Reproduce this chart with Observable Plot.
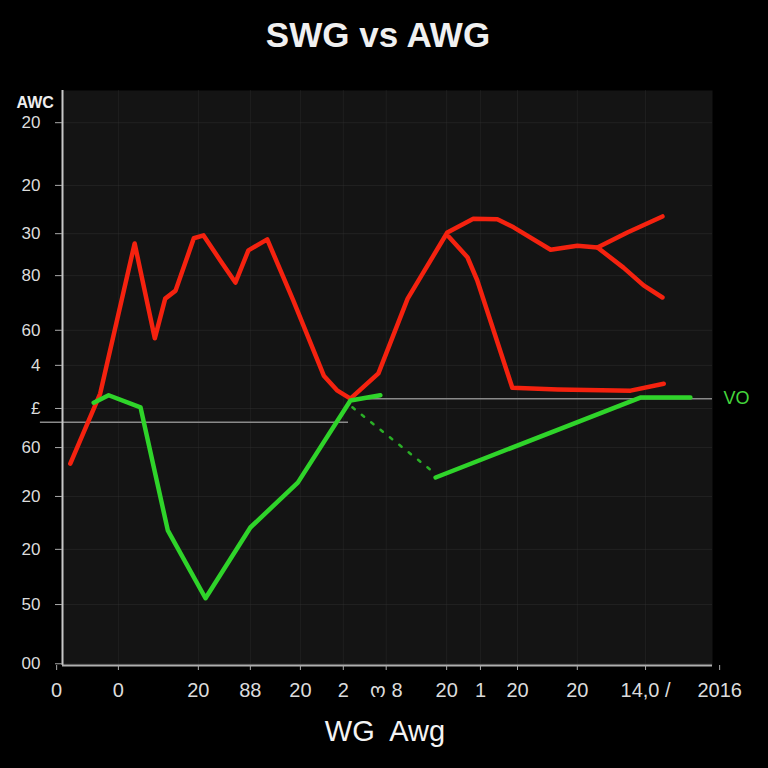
<!DOCTYPE html>
<html>
<head>
<meta charset="utf-8">
<script src="https://cdn.jsdelivr.net/npm/d3@7"></script>
<script src="https://cdn.jsdelivr.net/npm/@observablehq/plot@0.6"></script>
<style>
  html, body { margin: 0; padding: 0; background: #000; }
  body { width: 768px; height: 768px; overflow: hidden; font-family: "Liberation Sans", Arial, sans-serif; }
  #title { height: 70px; line-height: 70px; text-align: center; color: #f0f0f0; font-size: 35px; font-weight: bold; padding-right: 12px; }
  #xlabel { height: 68px; line-height: 62px; text-align: center; color: #f4f4f4; font-size: 29px; white-space: pre; padding-left: 2px; }
  #chart svg { display: block; }
</style>
</head>
<body>
<div id="title">SWG vs AWG</div>
<div id="chart"></div>
<div id="xlabel">WG  Awg</div>
<script>
// ---- data (chart units 0–100) ----
const title = "SWG vs AWG";
const yAxisTitle = "AWC";
const xAxisTitle = "WG  Awg";
const seriesLabel = "VO";

const yTickValues = [94.4, 83.5, 75.1, 67.8, 58.3, 52.2, 44.7, 37.9, 29.4, 20.2, 10.6, 0.3];
const yTickLabels = ["20", "20", "30", "80", "60", "4", "£", "60", "20", "20", "50", "00"];

const xTickValues = [-0.9, 8.6, 20.9, 28.9, 36.6, 43.2, 49.8, 59.1, 64.3, 70.0, 79.2, 89.7, 101.1];
const xTickLabels = ["0", "0", "20", "88", "20", "2", "ო 8", "20", "1", "20", "20", "14,0 /", "2016"];

const redMain = [[1.2,35.1],[5.8,47.3],[11.1,73.4],[14.2,56.9],[15.8,63.8],[17.4,65.2],[20.2,74.3],[21.7,74.8],
  [24.3,70.4],[26.6,66.6],[28.6,72.2],[31.5,74.1],[35.5,63.5],[40.2,50.4],[42.3,47.8],[44.3,46.4],[48.6,50.8],
  [53.1,63.8],[59.2,75.3],[63.2,77.7],[66.9,77.6],[69.4,76.2],[75.1,72.3],[79.2,73.0],[82.3,72.7],[86.9,75.3],[92.3,78.1]];
const redBranchHigh = [[82.3,72.7],[86.3,69.2],[89.4,66.1],[92.3,64.0]];
const redBranchLow = [[59.4,74.6],[62.3,71.0],[63.8,67.0],[69.2,48.3],[76.2,48.0],[87.4,47.8],[92.5,49.0]];

const greenMain = [[4.8,45.7],[7.1,47.0],[12.0,44.9],[16.2,23.5],[22.0,11.7],[28.9,24.0],[36.2,31.8],[44.3,46.1],[48.9,47.0]];
const greenDotted = [[44.6,44.9],[57.1,33.6]];
const greenRight = [[57.4,32.7],[88.9,46.6],[96.6,46.6]];

const refLineA = {y: 42.3, x1: -3.4, x2: 44.0};
const refLineB = {y: 46.4, x1: 44.3, x2: 100};

// ---- build ----
const toRows = (arr, name) => arr.map(([x, y]) => ({x, y, s: name}));
const redRows = [...toRows(redMain, "a"), ...toRows(redBranchHigh, "b"), ...toRows(redBranchLow, "c")];
const greenRows = [...toRows(greenMain, "a"), ...toRows(greenRight, "b")];
const yLabel = new Map(yTickValues.map((v, i) => [v, yTickLabels[i]]));
const xLabel = new Map(xTickValues.map((v, i) => [v, xTickLabels[i]]));

const red = "#f5220f";
const green = "#2fd42a";

const chart = Plot.plot({
  width: 768,
  height: 630,
  marginLeft: 62,
  marginRight: 56,
  marginTop: 20,
  marginBottom: 35,
  style: {background: "transparent", color: "#dcdcdc", fontFamily: "Liberation Sans, Arial, sans-serif"},
  x: {domain: [0, 100]},
  y: {domain: [0, 100]},
  marks: [
    Plot.frame({fill: "#141414", stroke: null}),
    Plot.gridY(yTickValues, {stroke: "#333", strokeOpacity: 0.45}),
    Plot.gridX(xTickValues.filter(v => v > 0 && v < 100), {stroke: "#333", strokeOpacity: 0.35}),
    Plot.ruleY([refLineA], {y: "y", x1: "x1", x2: "x2", stroke: "#8a8a8a", strokeWidth: 1.6}),
    Plot.ruleY([refLineB], {y: "y", x1: "x1", x2: "x2", stroke: "#8a8a8a", strokeWidth: 1.6}),
    Plot.line(redRows, {x: "x", y: "y", z: "s", stroke: red, strokeWidth: 4.5, strokeLinejoin: "round", strokeLinecap: "round"}),
    Plot.line(greenRows, {x: "x", y: "y", z: "s", stroke: green, strokeWidth: 4.5, strokeLinejoin: "round", strokeLinecap: "round"}),
    Plot.line(toRows(greenDotted, "d"), {x: "x", y: "y", stroke: green, strokeWidth: 2.5, strokeDasharray: "3,9", strokeOpacity: 0.8}),
    Plot.ruleX([0], {stroke: "#c8c8c8", strokeWidth: 2}),
    Plot.ruleY([0], {stroke: "#b0b0b0", strokeWidth: 2}),
    Plot.axisY({ticks: yTickValues, tickFormat: d => yLabel.get(d), tickSize: 7, tickPadding: 15, fontSize: 17, stroke: "#aaa", label: null}),
    Plot.axisX({ticks: xTickValues, tickFormat: d => xLabel.get(d), tickSize: 5, tickPadding: 12, fontSize: 20, stroke: "#aaa", label: null}),
    Plot.text([yAxisTitle], {frameAnchor: "top-left", dx: -46, dy: 6, textAnchor: "start", fontSize: 16, fontWeight: "bold", fill: "#eee"}),
    Plot.text([{x: 100, y: refLineB.y}], {x: "x", y: "y", text: () => seriesLabel, dx: 24, fill: "#44d63c", fontSize: 18, textAnchor: "middle"})
  ]
});
document.getElementById("chart").appendChild(chart);
</script>
</body>
</html>
